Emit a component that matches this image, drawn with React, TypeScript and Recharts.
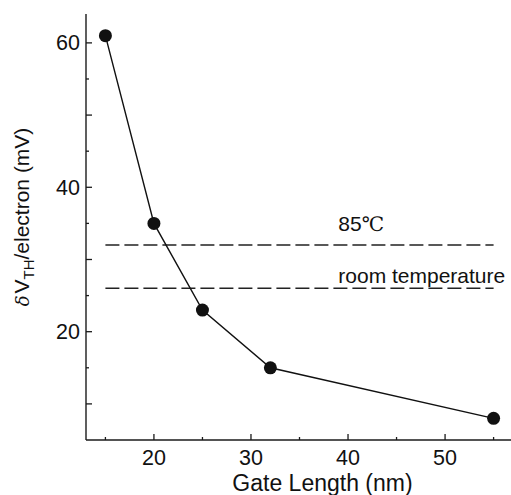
import React from 'react';
import { LineChart, Line, XAxis, YAxis, ReferenceLine, ReferenceDot } from 'recharts';

// ---- data ----
const gateLength = [15, 20, 25, 32, 55];
const deltaVth = [61, 35, 23, 15, 8];

const xTicks = [15, 20, 25, 30, 35, 40, 45, 50, 55];
const xTickLabels = [20, 30, 40, 50];
const yTicks = [10, 15, 20, 25, 30, 35, 40, 45, 50, 55, 60];
const yTickLabels = [20, 40, 60];

const refLevels = [32, 26];
const refNames = ['85\u2103', 'room temperature'];
const refStart = 15;
const refEnd = 55;
const annotationX = [39, 39];
const annotationY = [33.9, 26.8];

const data = gateLength.map((x, i) => ({ x, y: deltaVth[i] }));

const FONT = '"Liberation Sans", Arial, Helvetica, sans-serif';
const AXIS = '#1a1a1a';

const isMajor = (v: number) => v % 10 === 0;

const BottomTick = (props: any) => {
  const { x, y, payload } = props;
  const v = payload.value;
  const len = isMajor(v) ? 6 : 3;
  return (
    <g>
      <line x1={x} x2={x} y1={y} y2={y - len} stroke={AXIS} strokeWidth={1.3} />
      {xTickLabels.includes(v) && (
        <text x={x} y={y + 25} textAnchor="middle" fontSize={21.5} fontFamily={FONT} fill="#111">
          {v}
        </text>
      )}
    </g>
  );
};

const TopTick = (props: any) => {
  const { x, y, payload } = props;
  const v = payload.value;
  const len = isMajor(v) ? 6 : 3;
  return <line x1={x} x2={x} y1={y} y2={y + len} stroke={AXIS} strokeWidth={1.3} />;
};

const LeftTick = (props: any) => {
  const { x, y, payload } = props;
  const v = payload.value;
  const len = isMajor(v) ? 6 : 3;
  return (
    <g>
      <line x1={x} x2={x + len} y1={y} y2={y} stroke={AXIS} strokeWidth={1.3} />
      {yTickLabels.includes(v) && (
        <text x={x - 6} y={y + 7.5} textAnchor="end" fontSize={21.5} fontFamily={FONT} fill="#111">
          {v}
        </text>
      )}
    </g>
  );
};

const RightTick = (props: any) => {
  const { x, y, payload } = props;
  const v = payload.value;
  const len = isMajor(v) ? 6 : 3;
  return <line x1={x} x2={x - len} y1={y} y2={y} stroke={AXIS} strokeWidth={1.3} />;
};

const XLabel = (props: any) => {
  const { viewBox } = props;
  const cx = viewBox.x + viewBox.width / 2 + 23;
  return (
    <text x={cx} y={viewBox.y + 51} textAnchor="middle" fontSize={23} fontFamily={FONT} fill="#111">
      Gate Length (nm)
    </text>
  );
};

const YLabel = (props: any) => {
  const { viewBox } = props;
  const cx = viewBox.x + 29;
  const cy = viewBox.y + viewBox.height / 2 - 10;
  return (
    <text
      x={cx}
      y={cy}
      textAnchor="middle"
      fontSize={21}
      fontFamily={FONT}
      fill="#111"
      transform={`rotate(-90 ${cx} ${cy})`}
    >
      <tspan fontFamily='"DejaVu Serif", serif' fontStyle="italic" fontSize={18}>δ</tspan>
      <tspan dx={2}>V</tspan>
      <tspan dy={5} fontSize={15}>TH</tspan>
      <tspan dy={-5}>/electron (mV)</tspan>
    </text>
  );
};

const makeAnnotation = (text: string) => (props: any) => {
  const { viewBox } = props;
  const parts = text.split('\u2103');
  return (
    <text x={viewBox.x} y={viewBox.y} fontSize={21} fontFamily={FONT} fill="#111">
      {parts[0]}
      {parts.length > 1 && (
        <tspan fontFamily='"DejaVu Serif", serif' fontSize={20}>{'\u2103'}</tspan>
      )}
    </text>
  );
};

export default function App() {
  return (
    <div
      style={{
        position: 'absolute',
        left: 0,
        top: 0,
        width: 511,
        height: 495,
        overflow: 'hidden',
        background: '#fff',
      }}
    >
      <LineChart width={515} height={495} data={data} margin={{ top: 14, right: 2, bottom: 0, left: 0 }}>
        <XAxis
          xAxisId="b"
          dataKey="x"
          type="number"
          domain={[13, 57]}
          ticks={xTicks}
          interval={0}
          allowDataOverflow
          tick={<BottomTick />}
          tickLine={false}
          tickSize={0}
          tickMargin={0}
          height={55}
          axisLine={{ stroke: AXIS, strokeWidth: 1.4 }}
          label={<XLabel />}
        />
        <XAxis
          xAxisId="t"
          dataKey="x"
          orientation="top"
          type="number"
          domain={[13, 57]}
          ticks={xTicks}
          interval={0}
          allowDataOverflow
          tick={<TopTick />}
          tickLine={false}
          tickSize={0}
          tickMargin={0}
          height={0}
          axisLine={{ stroke: AXIS, strokeWidth: 1.4 }}
        />
        <YAxis
          yAxisId="l"
          dataKey="y"
          type="number"
          domain={[5, 64]}
          ticks={yTicks}
          interval={0}
          allowDataOverflow
          tick={<LeftTick />}
          tickLine={false}
          tickSize={0}
          tickMargin={0}
          width={86}
          axisLine={{ stroke: AXIS, strokeWidth: 1.4 }}
          label={<YLabel />}
        />
        <YAxis
          yAxisId="r"
          dataKey="y"
          orientation="right"
          type="number"
          domain={[5, 64]}
          ticks={yTicks}
          interval={0}
          allowDataOverflow
          tick={<RightTick />}
          tickLine={false}
          tickSize={0}
          tickMargin={0}
          width={0}
          axisLine={{ stroke: AXIS, strokeWidth: 1.4 }}
        />
        {refLevels.map((lv, i) => (
          <ReferenceLine
            key={'rl' + i}
            xAxisId="b"
            yAxisId="l"
            segment={[
              { x: refStart, y: lv },
              { x: refEnd, y: lv },
            ]}
            stroke="#222"
            strokeWidth={1.5}
            strokeDasharray="14 5"
          />
        ))}
        {refNames.map((name, i) => (
          <ReferenceDot
            key={'ann' + i}
            xAxisId="b"
            yAxisId="l"
            x={annotationX[i]}
            y={annotationY[i]}
            r={0}
            fill="none"
            stroke="none"
            label={makeAnnotation(name)}
          />
        ))}
        <Line
          xAxisId="b"
          yAxisId="l"
          dataKey="y"
          type="linear"
          stroke="#111"
          strokeWidth={1.4}
          dot={{ r: 6.5, fill: '#111', stroke: '#111', strokeWidth: 0 }}
          isAnimationActive={false}
        />
      </LineChart>
    </div>
  );
}
